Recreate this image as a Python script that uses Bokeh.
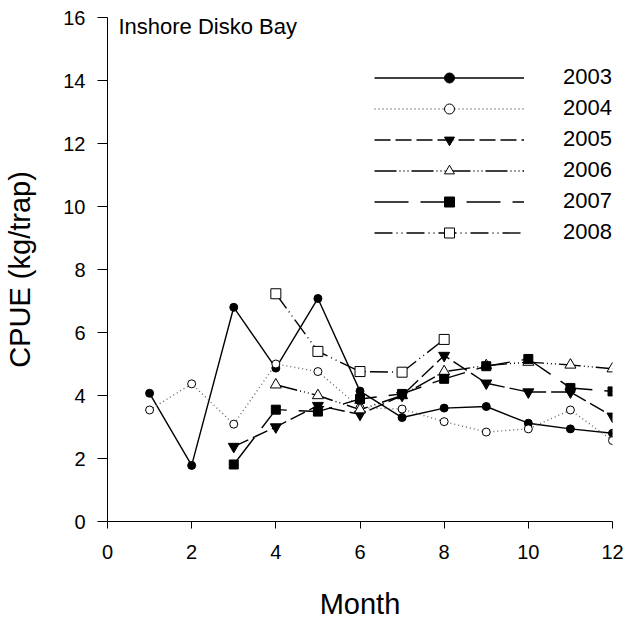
from bokeh.plotting import figure
from bokeh.models import Range1d, Legend, LegendItem, Label, FixedTicker
from bokeh.embed import file_html
from bokeh.resources import INLINE

# Monthly CPUE (kg/trap), inshore Disko Bay
months_2003 = [1, 2, 3, 4, 5, 6, 7, 8, 9, 10, 11, 12]
cpue_2003 = [4.07, 1.78, 6.80, 4.87, 7.08, 4.14, 3.30, 3.60, 3.65, 3.12, 2.94, 2.80]

months_2004 = [1, 2, 3, 4, 5, 6, 7, 8, 9, 10, 11, 12]
cpue_2004 = [3.54, 4.37, 3.09, 5.00, 4.76, 3.61, 3.57, 3.17, 2.84, 2.94, 3.54, 2.57]

months_2005 = [3, 4, 5, 6, 7, 8, 9, 10, 11, 12]
cpue_2005 = [2.38, 3.00, 3.68, 3.40, 4.00, 5.27, 4.39, 4.11, 4.11, 3.34]

months_2006 = [4, 5, 6, 7, 8, 9, 10, 11, 12]
cpue_2006 = [4.34, 4.00, 3.55, 4.00, 4.76, 4.95, 5.06, 4.97, 4.85]

months_2007 = [3, 4, 5, 6, 7, 8, 9, 10, 11, 12]
cpue_2007 = [1.81, 3.55, 3.49, 3.89, 4.05, 4.53, 4.93, 5.16, 4.24, 4.13]

months_2008 = [4, 5, 6, 7, 8]
cpue_2008 = [7.23, 5.40, 4.76, 4.74, 5.78]

years = ["2003", "2004", "2005", "2006", "2007", "2008"]
x_ticks = [0, 2, 4, 6, 8, 10, 12]
y_ticks = [0, 2, 4, 6, 8, 10, 12, 14, 16]

FONT = "Liberation Sans"

p = figure(width=628, height=622, output_backend="svg", toolbar_location=None,
           x_range=Range1d(0, 12), y_range=Range1d(0, 16),
           min_border_left=107, min_border_right=16,
           min_border_top=17, min_border_bottom=101)
p.outline_line_color = None
p.xgrid.visible = False
p.ygrid.visible = False
p.background_fill_color = "white"
p.border_fill_color = "white"

for ax in (p.xaxis[0], p.yaxis[0]):
    ax.axis_line_color = "black"
    ax.axis_line_width = 1
    ax.major_tick_line_color = "black"
    ax.major_tick_in = 0
    ax.minor_tick_line_color = None
    ax.major_label_text_font = FONT
    ax.major_label_text_font_size = "20px"
    ax.major_label_text_color = "black"
    ax.axis_label_text_font = FONT
    ax.axis_label_text_font_size = "29px"
    ax.axis_label_text_font_style = "normal"
    ax.axis_label_text_color = "black"

p.xaxis.ticker = FixedTicker(ticks=x_ticks)
p.yaxis.ticker = FixedTicker(ticks=y_ticks)
p.xaxis.axis_label = "Month"
p.yaxis.axis_label = "CPUE (kg/trap)"
p.xaxis.major_tick_out = 7
p.yaxis.major_tick_out = 10
p.xaxis.major_label_standoff = 16
p.yaxis.major_label_standoff = 12
p.xaxis.axis_label_standoff = 26
p.yaxis.axis_label_standoff = 24

series = [
    (months_2003, cpue_2003, "solid", "circle", "black", 8, "black"),
    (months_2004, cpue_2004, "1 3", "circle", "white", 8, "#666666"),
    (months_2005, cpue_2005, "16 5", "inverted_triangle", "black", 11, "black"),
    (months_2006, cpue_2006, "22 3 1 3 1 3 1 3", "triangle", "white", 11, "black"),
    (months_2007, cpue_2007, "34 12", "square", "black", 9, "black"),
    (months_2008, cpue_2008, "18 4 1 4 1 4", "square", "white", 10, "black"),
]

# lines first, markers on top so open symbols mask the lines
line_renderers = []
for (xs, ys, dash, marker, fill, size, lcolor), year in zip(series, years):
    ln = p.line(xs, ys, line_color=lcolor, line_width=1.4, line_dash=dash)
    line_renderers.append((ln, xs, ys, marker, fill, size, year))

items = []
for ln, xs, ys, marker, fill, size, year in line_renderers:
    sc = p.scatter(xs, ys, marker=marker, size=size, fill_color=fill,
                   line_color="black", line_width=1)
    items.append(LegendItem(label=year, renderers=[ln, sc]))

legend = Legend(items=items, location=(267, 276), orientation="vertical",
                glyph_width=150, glyph_height=25, label_height=25,
                spacing=5, label_standoff=39, padding=0, margin=0,
                border_line_color=None, background_fill_alpha=0,
                label_text_font=FONT, label_text_font_size="22px",
                label_text_color="black")
p.add_layout(legend, "center")

p.add_layout(Label(x=0.26, y=15.72, text="Inshore Disko Bay",
                   text_font=FONT, text_font_size="22px",
                   text_baseline="middle", text_align="left",
                   text_color="black"))

open("out.html", "w").write(file_html(p, INLINE))
